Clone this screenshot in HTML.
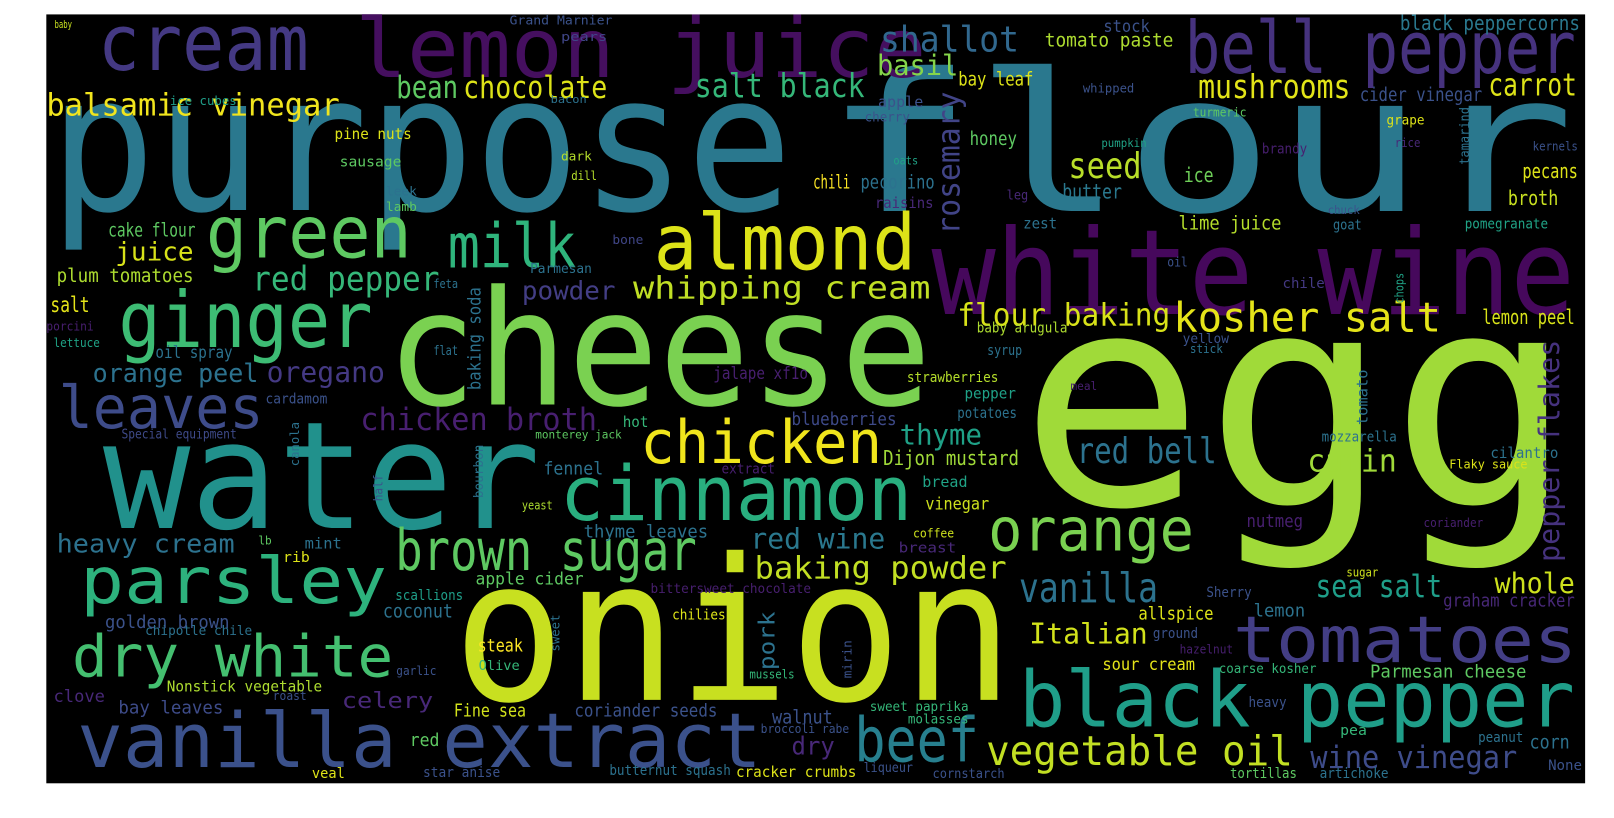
<!DOCTYPE html>
<html><head><meta charset="utf-8"><style>
html,body{margin:0;padding:0;background:#fff;width:1614px;height:818px;overflow:hidden}
svg{display:block}
text{font-family:"DejaVu Sans Mono","Liberation Mono",monospace}
</style></head><body>
<svg id="cloud" width="1614" height="818" viewBox="0 0 1614 818" xmlns="http://www.w3.org/2000/svg">
<g transform="scale(1.0293)">
<rect x="45" y="14" width="1495" height="747" fill="#000"/>
<g id="words"></g>
</g>
</svg>
<script>
// [word, x, baseline y (or bottom for vertical), size, extent, colour, vertical]
const rows=[
["purpose",48,204,185,722,"#2a788e",0],
["flour",800,205,187,730,"#2a788e",0],
["egg",990,490,288,540,"#a0da39",0],
["cheese",375,393,155,530,"#7ad151",0],
["water",100,513,145,425,"#21918c",0],
["onion",440,680,192,545,"#c8e020",0],
["white wine",905,305,115,625,"#46085c",0],
["lemon juice",345,75,80,555,"#450f5f",0],
["cream",95,68,75,205,"#443983",0],
["bell pepper",1151,71,70,380,"#46327e",0],
["green",200,250,70,200,"#5ec962",0],
["milk",435,260,60,125,"#2fb47c",0],
["almond",635,262,75,255,"#dde318",0],
["ginger",115,337,75,247,"#3dbc74",0],
["leaves",57,416,57,199,"#3e4c8a",0],
["chicken",622,450,58,235,"#f0e51c",0],
["cinnamon",544,505,74,342,"#29af7f",0],
["parsley",78,586,62,298,"#2db27d",0],
["dry white",70,657,56,312,"#44bf70",0],
["vanilla extract",75,745,74,665,"#3b518b",0],
["brown sugar",384,554,55,293,"#5ec962",0],
["orange",960,535,58,200,"#7ad151",0],
["black pepper",990,706,75,540,"#1f9e89",0],
["tomatoes",1198,643,62,334,"#433e85",0],
["beef",830,740,60,121,"#277f8e",0],
["vegetable oil",958,743,40,298,"#c2df23",0],
["whipping cream",615,290,30,289,"#c0df25",0],
["kosher salt",1140,322,40,260,"#e5e419",0],
["flour baking",930,316,30,207,"#d8e219",0],
["balsamic vinegar",45,112,30,285,"#f1e51d",0],
["bean",385,95,30,60,"#5ec962",0],
["chocolate",450,95,30,140,"#dde318",0],
["salt black",675,94,32,165,"#35b779",0],
["shallot",855,50,35,135,"#31688e",0],
["basil",852,73,28,79,"#85d54a",0],
["mushrooms",1164,95,32,148,"#e2e418",0],
["carrot",1446,93,30,86,"#dde318",0],
["tomato paste",1015,45,18,125,"#addc30",0],
["stock",1072,31,16,45,"#3b528b",0],
["black peppercorns",1360,29,20,175,"#2a788e",0],
["seed",1038,173,35,71,"#b8de29",0],
["ice",1150,177,20,29,"#6ece58",0],
["honey",942,141,18,46,"#5ec962",0],
["bay leaf",931,83,18,73,"#dde318",0],
["cider vinegar",1321,98,18,119,"#3b528b",0],
["pecans",1479,173,20,54,"#dde318",0],
["broth",1465,199,20,49,"#c8e020",0],
["butter",1032,193,20,58,"#2a788e",0],
["lime juice",1145,223,18,100,"#b5de2b",0],
["lemon peel",1440,315,20,90,"#d8e219",0],
["red bell",1046,450,35,136,"#2c728e",0],
["cumin",1270,458,30,87,"#a0da39",0],
["vanilla",990,585,40,135,"#2c728e",0],
["Italian",1000,625,28,115,"#d2e21b",0],
["sea salt",1278,580,30,123,"#1f9e89",0],
["whole",1452,576,28,78,"#cde11d",0],
["wine vinegar",1273,746,30,201,"#3e4c8a",0],
["thyme",874,432,28,80,"#1fa187",0],
["Dijon mustard",858,452,20,132,"#a0da39",0],
["red wine",729,533,28,131,"#2a788e",0],
["baking powder",733,562,30,245,"#c2df23",0],
["chicken broth",350,418,30,230,"#481f70",0],
["oregano",259,371,28,115,"#443983",0],
["orange peel",90,371,25,161,"#2c728e",0],
["juice",112,253,25,76,"#d8e219",0],
["red pepper",245,282,33,182,"#35b779",0],
["powder",507,291,25,91,"#433e85",0],
["plum tomatoes",55,274,18,133,"#addc30",0],
["cake flour",105,230,18,85,"#5ec962",0],
["salt",49,303,21,38,"#e5e419",0],
["oil spray",151,348,16,75,"#2c728e",0],
["heavy cream",55,537,25,173,"#2c728e",0],
["golden brown",102,610,17,121,"#3b528b",0],
["celery",332,688,22,89,"#482878",0],
["coconut",372,600,18,68,"#2c728e",0],
["apple cider",462,568,16,105,"#5ec962",0],
["thyme leaves",567,522,17,121,"#2c728e",0],
["bay leaves",115,693,17,102,"#3e4c8a",0],
["clove",52,682,16,50,"#482878",0],
["Nonstick vegetable",162,672,15,151,"#addc30",0],
["scallions",384,583,14,66,"#1f9e89",0],
["Fine sea",441,696,17,70,"#d2e21b",0],
["coriander seeds",558,696,17,139,"#3b528b",0],
["steak",464,633,17,44,"#fde725",0],
["Olive",465,651,13,40,"#35b779",0],
["dry",769,733,24,42,"#482878",0],
["red",398,725,17,29,"#5ec962",0],
["walnut",750,703,18,59,"#3b528b",0],
["sour cream",1071,651,16,90,"#e5e419",0],
["Parmesan cheese",1331,658,17,152,"#5ec962",0],
["coarse kosher",1184,654,13,95,"#35b779",0],
["allspice",1106,602,17,73,"#dde318",0],
["lemon",1218,599,17,50,"#2c728e",0],
["graham cracker",1402,589,17,128,"#482878",0],
["cilantro",1448,445,15,66,"#2c728e",0],
["Flaky sauce",1408,455,12,76,"#dde318",0],
["nutmeg",1211,512,17,55,"#481f70",0],
["coriander",1383,512,12,58,"#481f70",0],
["vinegar",899,495,16,62,"#cde11d",0],
["bread",896,473,15,44,"#20a386",0],
["breast",873,537,14,56,"#482878",0],
["coffee",887,522,12,40,"#cde11d",0],
["blueberries",769,413,17,102,"#3e4a89",0],
["strawberries",881,371,14,89,"#b5de2b",0],
["pepper",937,387,15,50,"#1fa187",0],
["potatoes",930,406,15,58,"#2c728e",0],
["chili",790,183,18,36,"#fde725",0],
["pecorino",836,183,18,72,"#2c728e",0],
["raisins",850,202,15,57,"#482878",0],
["apple",853,104,15,44,"#3b528b",0],
["cherry",840,118,13,44,"#3b528b",0],
["pine nuts",325,135,15,75,"#dde318",0],
["sausage",330,162,14,60,"#5ec962",0],
["leek",375,190,12,30,"#2c728e",0],
["lamb",375,205,12,30,"#5ec962",0],
["dark",545,156,12,30,"#b5de2b",0],
["dill",555,175,12,25,"#b5de2b",0],
["bone",595,237,12,30,"#404688",0],
["Grand Marnier",495,24,12,100,"#3b528b",0],
["pears",545,40,12,45,"#404688",0],
["baby",53,27,10,17,"#c8e020",0],
["ice cubes",165,102,12,65,"#1f9e89",0],
["bacon",535,100,10,35,"#2c728e",0],
["whipped",1052,90,12,50,"#3b528b",0],
["turmeric",1159,113,12,52,"#5ec962",0],
["pumpkin",1070,143,11,44,"#20a386",0],
["grape",1347,121,13,37,"#dde318",0],
["brandy",1226,149,14,44,"#481f70",0],
["rice",1355,143,12,25,"#482878",0],
["kernels",1489,146,12,44,"#3b528b",0],
["oats",868,160,11,24,"#20a386",0],
["leg",978,194,13,21,"#482878",0],
["zest",994,222,15,33,"#2c728e",0],
["goat",1295,223,14,28,"#2c728e",0],
["chuck",1290,208,11,31,"#3b528b",0],
["pomegranate",1423,222,14,81,"#20a386",0],
["oil",1134,259,13,20,"#3b528b",0],
["chile",1246,280,14,41,"#443983",0],
["baby arugula",949,323,14,88,"#addc30",0],
["yellow",1149,333,13,45,"#3b528b",0],
["syrup",959,345,14,34,"#2c728e",0],
["stick",1156,343,12,32,"#2c728e",0],
["meal",1040,379,11,26,"#481f70",0],
["mozzarella",1284,429,14,73,"#2c728e",0],
["Sherry",1172,580,14,44,"#3b528b",0],
["sugar",1308,560,12,31,"#cde11d",0],
["hazelnut",1146,635,12,52,"#481f70",0],
["heavy",1213,687,14,37,"#3b528b",0],
["pea",1302,714,14,26,"#35b779",0],
["peanut",1436,721,14,44,"#2c728e",0],
["corn",1486,727,18,39,"#2c728e",0],
["None",1504,748,14,33,"#3b528b",0],
["artichoke",1282,756,14,67,"#2c728e",0],
["tortillas",1195,756,14,65,"#5ec962",0],
["cornstarch",906,756,13,70,"#3b528b",0],
["liqueur",839,750,13,48,"#3b528b",0],
["molasses",882,703,13,59,"#35b779",0],
["sweet paprika",845,691,13,96,"#35b779",0],
["broccoli rabe",739,712,12,86,"#3b528b",0],
["cracker crumbs",715,755,15,117,"#dde318",0],
["butternut squash",592,753,14,118,"#2c728e",0],
["star anise",411,755,14,75,"#3b528b",0],
["veal",303,756,14,32,"#dde318",0],
["lb",251,529,11,13,"#5ec962",0],
["rib",275,546,14,26,"#dde318",0],
["mint",296,533,15,36,"#2c728e",0],
["yeast",507,495,12,30,"#addc30",0],
["extract",701,460,14,52,"#481f70",0],
["cardamom",258,392,14,60,"#3b528b",0],
["Special equipment",118,426,13,112,"#3e4a89",0],
["hot",605,415,15,25,"#35b779",0],
["fennel",528,461,17,58,"#2c728e",0],
["monterey jack",520,426,11,84,"#5ec962",0],
["bittersweet chocolate",632,576,13,156,"#481f70",0],
["chilies",653,602,14,52,"#dde318",0],
["chipotle chile",141,617,13,104,"#2c728e",0],
["garlic",385,656,12,39,"#3b528b",0],
["roast",265,680,12,33,"#3b528b",0],
["mussels",728,659,12,44,"#35b779",0],
["Parmesan",515,265,13,60,"#2c728e",0],
["feta",421,280,12,24,"#2c728e",0],
["jalape xf1o",693,368,16,92,"#481f70",0],
["lettuce",52,337,12,45,"#20a386",0],
["porcini",45,321,12,46,"#481f70",0],
["ground",1120,620,14,44,"#3b528b",0],
["flat",421,345,13,24,"#2c728e",0],
["rosemary",911,228,30,139,"#414487",1],
["pepper flakes",1495,546,28,216,"#46327e",1],
["pork",737,651,22,57,"#2c728e",1],
["tamarind",1418,160,13,56,"#2c728e",1],
["chops",1355,295,12,30,"#20a386",1],
["tomato",1318,413,15,54,"#2c728e",1],
["half",363,487,12,26,"#3b528b",1],
["bourbon",460,484,13,52,"#2c728e",1],
["canola",282,453,12,43,"#2c728e",1],
["baking soda",455,379,17,100,"#2c728e",1],
["sweet",535,633,12,36,"#2c728e",1],
["mirin",819,659,12,37,"#3b528b",1]
];
const words=rows.map(r=>r[0]);
const xs=rows.map(r=>r[1]);
const ys=rows.map(r=>r[2]);
const sizes=rows.map(r=>r[3]);
const widths=rows.map(r=>r[4]);
const colors=rows.map(r=>r[5]);
const vertical=rows.map(r=>r[6]);

const NS="http://www.w3.org/2000/svg";
const g=document.getElementById('words');
for(let i=0;i<words.length;i++){
  const t=document.createElementNS(NS,'text');
  
  
  t.setAttribute('font-size',sizes[i]);
  t.setAttribute('fill',colors[i]);
  t.setAttribute('textLength',widths[i]);
  t.setAttribute('lengthAdjust','spacingAndGlyphs');
  if(vertical[i]){
    const bx=xs[i]+sizes[i]*0.7, by=ys[i];
    t.setAttribute('x',bx);t.setAttribute('y',by);
    t.setAttribute('transform','rotate(-90 '+bx+' '+by+')');
  }else{
    t.setAttribute('x',xs[i]);t.setAttribute('y',ys[i]);
  }
  t.textContent=words[i];
  g.appendChild(t);
}
</script>
</body></html>
